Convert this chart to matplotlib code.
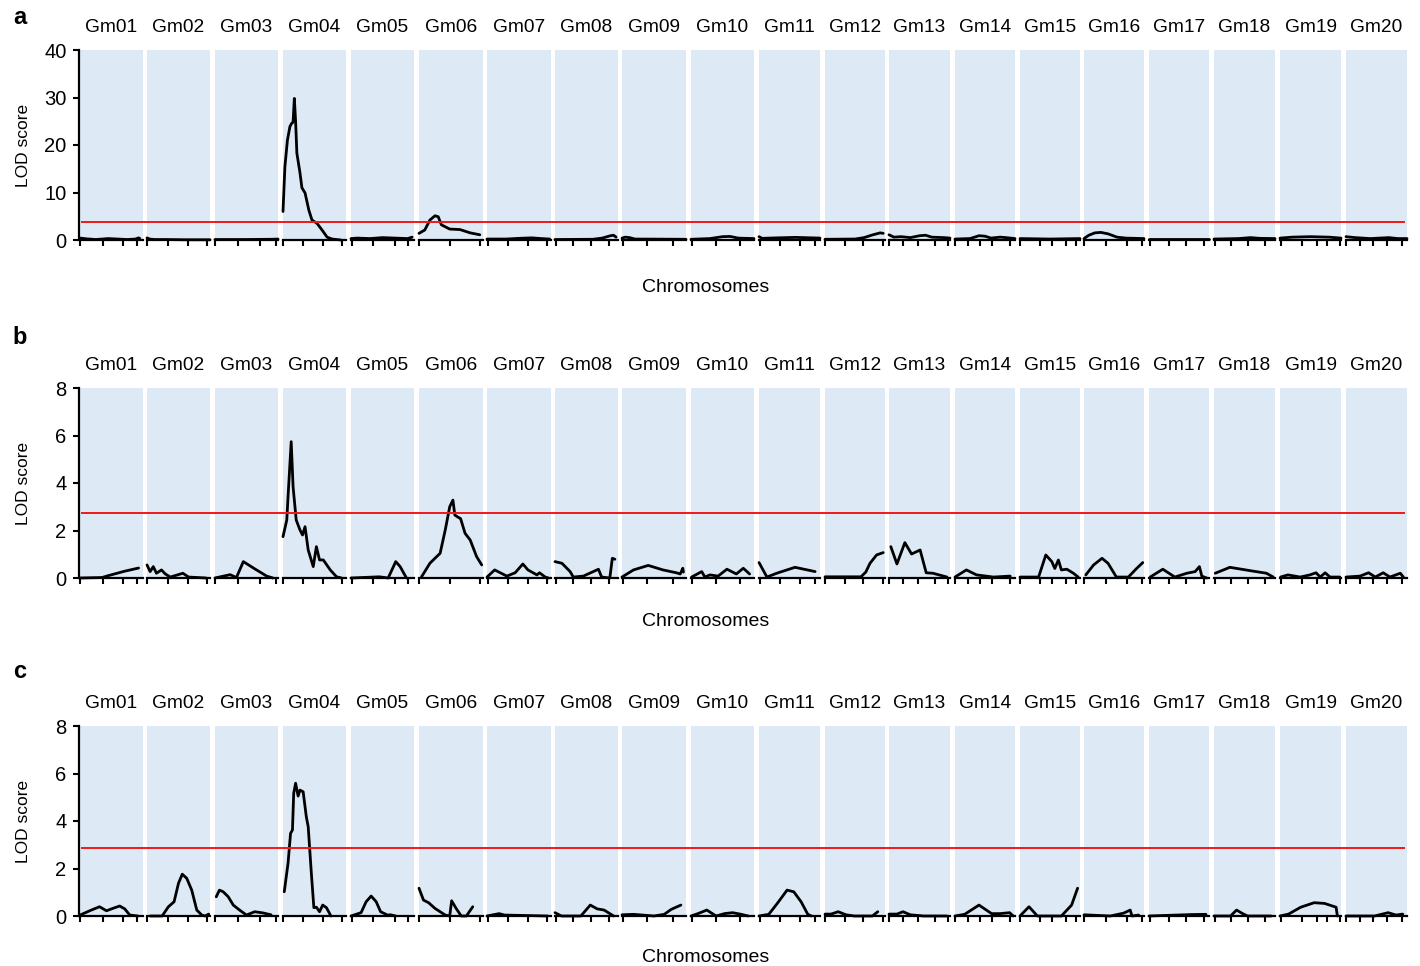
import numpy as np
import matplotlib.pyplot as plt

plt.rcParams['font.family'] = ['Liberation Sans', 'DejaVu Sans']

chromosomes = ["Gm%02d" % i for i in range(1, 21)]
panel_letters = ["a", "b", "c"]
y_max = [40, 8, 8]
y_step = [10, 2, 2]
thresholds = [3.8, 2.75, 2.85]

# tick marks along each chromosome (% of the chromosome axis)
chrom_ticks = [
    [0, 37, 69, 90], [0, 33, 65, 95], [0, 36, 72, 97], [0, 32, 63, 94],
    [2, 35, 70, 90], [0, 48, 95], [1, 33, 64, 94], [2, 29, 57, 85],
    [2, 39, 80], [1, 40, 78], [2, 34, 67, 92], [0, 33, 64, 97],
    [0, 23, 48, 75, 96], [0, 22, 42, 62, 92], [0, 33, 53, 76, 94], [0, 36, 72, 97],
    [1, 34, 62, 92], [1, 28, 56, 83], [1, 36, 60, 77, 98], [0, 23, 45, 67, 92],
]

# panel a: map position (% of chromosome) and LOD score
pos_a = [
    [0, 10, 25, 45, 60, 75, 88, 93, 95],
    [0, 4, 12, 30, 60, 100],
    [0, 50, 90, 100],
    [0, 3, 7, 11, 14, 16, 18, 20, 22, 27, 30, 35, 41, 46, 54, 62, 70, 78, 92],
    [0, 10, 30, 50, 70, 90, 97],
    [0, 9, 17, 25, 30, 35, 48, 64, 80, 95],
    [0, 30, 50, 70, 85, 98],
    [0, 60, 75, 88, 93, 97],
    [0, 5, 12, 20, 100],
    [0, 30, 50, 62, 75, 100],
    [0, 5, 30, 60, 100],
    [0, 50, 65, 80, 92, 97],
    [0, 8, 20, 35, 50, 60, 70, 90, 100],
    [0, 25, 40, 50, 60, 75, 85, 100],
    [0, 50, 100],
    [0, 8, 18, 28, 40, 55, 70, 100],
    [0, 100],
    [0, 40, 60, 75, 100],
    [0, 20, 50, 80, 100],
    [0, 15, 40, 70, 85, 100],
]
lod_a = [
    [0.4, 0.25, 0.1, 0.3, 0.2, 0.1, 0.2, 0.45, 0.3],
    [0.45, 0.2, 0.1, 0.1, 0.05, 0.05],
    [0.1, 0.1, 0.15, 0.2],
    [6.0, 15.4, 21.0, 23.9, 24.6, 24.8, 29.8, 25.0, 18.3, 14.1, 11.0, 9.9, 6.3, 4.2, 3.5, 2.1, 0.6, 0.2, 0.0],
    [0.3, 0.4, 0.3, 0.5, 0.4, 0.3, 0.6],
    [1.4, 2.1, 4.2, 5.1, 4.9, 3.2, 2.3, 2.2, 1.5, 1.1],
    [0.2, 0.2, 0.35, 0.45, 0.3, 0.2],
    [0.1, 0.15, 0.4, 0.9, 1.0, 0.6],
    [0.4, 0.6, 0.5, 0.2, 0.15],
    [0.15, 0.3, 0.7, 0.75, 0.4, 0.3],
    [0.7, 0.35, 0.45, 0.55, 0.4],
    [0.15, 0.2, 0.5, 1.1, 1.5, 1.4],
    [1.1, 0.6, 0.7, 0.5, 0.9, 1.0, 0.6, 0.5, 0.4],
    [0.2, 0.3, 0.9, 0.8, 0.4, 0.6, 0.5, 0.3],
    [0.3, 0.2, 0.3],
    [0.3, 1.0, 1.5, 1.6, 1.3, 0.6, 0.4, 0.3],
    [0.25, 0.25],
    [0.2, 0.3, 0.5, 0.35, 0.3],
    [0.4, 0.6, 0.7, 0.6, 0.4],
    [0.7, 0.5, 0.3, 0.5, 0.3, 0.3],
]

# panel b
pos_b = [
    [0, 35, 45, 70, 93],
    [0, 5, 10, 15, 23, 29, 37, 57, 66, 94],
    [0, 24, 34, 45, 61, 82, 92],
    [0, 6, 8, 13, 16, 21, 27, 31, 35, 40, 48, 53, 58, 64, 75, 85, 93],
    [0, 45, 59, 71, 78, 88],
    [4, 17, 33, 41, 48, 53, 56, 61, 65, 72, 80, 90, 98],
    [0, 12, 31, 44, 56, 64, 78, 82, 91, 96],
    [0, 11, 24, 29, 45, 69, 74, 87, 91, 95],
    [0, 18, 41, 64, 85, 91, 95, 96],
    [1, 17, 22, 30, 43, 57, 72, 83, 93],
    [0, 13, 29, 59, 92],
    [0, 40, 60, 68, 75, 86, 97],
    [3, 13, 26, 37, 51, 61, 72, 95],
    [0, 19, 36, 64, 92],
    [0, 31, 43, 53, 58, 64, 69, 78, 89, 97],
    [3, 16, 30, 40, 54, 74, 88, 98],
    [2, 23, 43, 63, 77, 84, 88, 96],
    [2, 26, 59, 86, 97],
    [1, 13, 33, 49, 59, 66, 74, 82, 98],
    [0, 23, 37, 48, 61, 72, 89, 94],
]
lod_b = [
    [0, 0.02, 0.1, 0.28, 0.42],
    [0.55, 0.27, 0.48, 0.2, 0.34, 0.17, 0.04, 0.2, 0.04, 0],
    [0, 0.14, 0.02, 0.69, 0.42, 0.08, 0],
    [1.74, 2.44, 3.42, 5.74, 3.84, 2.44, 2.02, 1.81, 2.16, 1.18, 0.48, 1.32, 0.76, 0.76, 0.34, 0.05, 0],
    [0, 0.05, 0.0, 0.69, 0.48, 0],
    [0.05, 0.62, 1.04, 2.02, 3.0, 3.28, 2.65, 2.56, 2.5, 1.88, 1.6, 0.9, 0.55],
    [0.04, 0.34, 0.08, 0.22, 0.59, 0.34, 0.13, 0.22, 0.04, 0],
    [0.69, 0.62, 0.27, 0.04, 0.08, 0.37, 0.04, 0, 0.83, 0.79],
    [0.04, 0.34, 0.53, 0.34, 0.22, 0.17, 0.41, 0.25],
    [0.04, 0.27, 0.04, 0.13, 0.08, 0.37, 0.17, 0.41, 0.17],
    [0.65, 0.04, 0.2, 0.45, 0.27],
    [0.05, 0.05, 0.05, 0.25, 0.62, 0.97, 1.07],
    [1.32, 0.59, 1.49, 1.01, 1.18, 0.22, 0.2, 0.04],
    [0.04, 0.34, 0.13, 0.04, 0.08],
    [0.04, 0.04, 0.97, 0.69, 0.4, 0.76, 0.34, 0.37, 0.2, 0.04],
    [0.13, 0.55, 0.83, 0.62, 0.04, 0.04, 0.41, 0.65],
    [0.04, 0.37, 0.04, 0.2, 0.27, 0.48, 0.08, 0],
    [0.2, 0.45, 0.31, 0.2, 0.04],
    [0.04, 0.13, 0.04, 0.13, 0.22, 0.04, 0.22, 0.04, 0.04],
    [0.04, 0.08, 0.22, 0.04, 0.22, 0.04, 0.2, 0.04],
]

# panel c
pos_c = [
    [0, 18, 31, 42, 52, 63, 71, 79, 92],
    [5, 24, 34, 43, 50, 56, 63, 71, 79, 87, 92, 98],
    [2, 7, 13, 21, 29, 39, 50, 63, 76, 89],
    [2, 8, 12, 15, 17, 20, 24, 27, 32, 37, 40, 45, 49, 53, 58, 63, 69, 76],
    [0, 16, 24, 32, 40, 47, 58, 63, 71],
    [0, 7, 15, 25, 41, 48, 51, 58, 66, 74, 84],
    [0, 19, 27, 95],
    [0, 10, 41, 56, 67, 78, 93],
    [0, 18, 50, 66, 77, 92],
    [0, 11, 25, 40, 53, 66, 78, 91],
    [0, 16, 30, 46, 57, 69, 80, 86],
    [0, 10, 22, 35, 49, 79, 88],
    [0, 13, 23, 35, 57, 95],
    [0, 16, 40, 61, 75, 91, 97],
    [0, 15, 29, 69, 86, 96],
    [0, 44, 66, 77, 80, 91],
    [0, 70, 95],
    [0, 27, 37, 47, 55, 94],
    [0, 14, 34, 56, 73, 92, 94],
    [0, 47, 69, 82, 93],
]
lod_c = [
    [0.04, 0.25, 0.39, 0.22, 0.32, 0.42, 0.3, 0.04, 0],
    [0, 0, 0.39, 0.6, 1.38, 1.76, 1.59, 1.09, 0.25, 0.04, 0, 0.08],
    [0.81, 1.09, 1.02, 0.81, 0.46, 0.25, 0.04, 0.18, 0.13, 0.05],
    [1.02, 2.22, 3.48, 3.62, 5.17, 5.59, 5.05, 5.3, 5.23, 4.18, 3.76, 1.8, 0.35, 0.37, 0.18, 0.46, 0.35, 0],
    [0, 0.14, 0.6, 0.84, 0.6, 0.18, 0.04, 0.05, 0],
    [1.17, 0.67, 0.56, 0.32, 0.04, 0, 0.64, 0.32, 0, 0, 0.39],
    [0, 0.1, 0.04, 0],
    [0.14, 0, 0, 0.46, 0.3, 0.25, 0],
    [0.05, 0.07, 0, 0.07, 0.28, 0.46],
    [0, 0.1, 0.25, 0, 0.1, 0.14, 0.08, 0],
    [0, 0.07, 0.53, 1.09, 1.02, 0.6, 0.07, 0],
    [0.08, 0.08, 0.18, 0.05, 0, 0, 0.18],
    [0.08, 0.08, 0.18, 0.05, 0, 0],
    [0, 0.07, 0.46, 0.1, 0.1, 0.14, 0],
    [0, 0.39, 0, 0, 0.46, 1.17],
    [0.05, 0, 0.12, 0.25, 0, 0.04],
    [0, 0.06, 0.07],
    [0, 0, 0.25, 0.1, 0, 0],
    [0, 0.08, 0.37, 0.56, 0.53, 0.37, 0],
    [0, 0, 0.14, 0.04, 0.08],
]

positions = [pos_a, pos_b, pos_c]
lods = [lod_a, lod_b, lod_c]

# layout in pixels
W, H = 1420, 966
band_px = [(80, 143), (147, 210), (215, 278), (283, 346), (351, 414),
           (419, 483), (487, 551), (555, 618), (622, 686), (691, 754),
           (759, 820), (825, 885), (889, 950), (955, 1015), (1020, 1080),
           (1084, 1144), (1149, 1209), (1214, 1275), (1280, 1341), (1346, 1407)]
axis_left, axis_right = 79, 1407
panel_top = [50, 388, 726]
panel_h = 190
letter_y = [18, 338, 672]
xlabel_y = [287, 622, 957]
band_color = "#dde9f5"

fig = plt.figure(figsize=(W / 100, H / 100), dpi=100)

for p in range(3):
    top = panel_top[p]
    bottom = 1 - (top + panel_h) / H
    h = panel_h / H
    for i, name in enumerate(chromosomes):
        x0, x1 = band_px[i]
        ax = fig.add_axes([x0 / W, bottom, (x1 - x0) / W, h])
        ax.set_facecolor(band_color)
        for s in ["top", "right", "left"]:
            ax.spines[s].set_visible(False)
        ax.spines["bottom"].set_linewidth(1.6)
        ax.set_xlim(0, 100)
        ax.set_ylim(0, y_max[p])
        ax.set_xticks(chrom_ticks[i])
        ax.set_xticklabels([])
        ax.set_yticks([])
        ax.tick_params(axis="x", direction="out", length=4, width=1.5)
        ax.plot(positions[p][i], lods[p][i], color="black", lw=2.0,
                solid_joinstyle="round", solid_capstyle="round", clip_on=False)
        ax.set_title(name, fontsize=13.8, pad=13)

    ov = fig.add_axes([axis_left / W, bottom, (axis_right - axis_left) / W, h])
    ov.patch.set_visible(False)
    for s in ["top", "right", "bottom"]:
        ov.spines[s].set_visible(False)
    ov.spines["left"].set_linewidth(1.6)
    ov.set_xlim(0, 1)
    ov.set_ylim(0, y_max[p])
    ov.set_yticks(np.arange(0, y_max[p] + 1, y_step[p]))
    ov.set_xticks([])
    ov.tick_params(axis="y", direction="out", length=4, width=1.5, labelsize=14.5, pad=5)
    ov.axhline(thresholds[p], xmin=0.002, xmax=0.998, color="#f01818", lw=1.4)
    ov.set_ylabel("LOD score", fontsize=12.5, va="center")
    ov.yaxis.set_label_coords((23 - axis_left) / (axis_right - axis_left), 0.5)
    fig.text(706 / W, 1 - xlabel_y[p] / H, "Chromosomes", fontsize=14,
             ha="center", va="center")
    fig.text(20 / W, 1 - letter_y[p] / H, panel_letters[p], fontsize=17,
             fontweight="bold", ha="center", va="center")

fig.savefig("out.png", dpi=100)
